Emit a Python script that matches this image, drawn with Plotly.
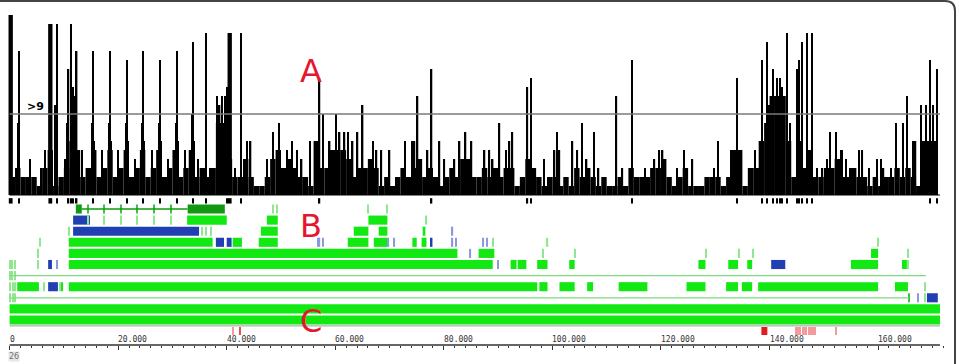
import plotly.graph_objects as go

GENOME_KB = 171.4

# ---------------- Panel A : coverage histogram (counts) ----------------
# background counts, one value per 1 kb bin (kb 0 .. 170)
bg_counts = [2, 3, 2, 2, 2, 1, 3, 5, 1, 2,
             3, 6, 5, 2, 3, 5, 2, 3, 5, 2,
             3, 5, 2, 3, 5, 2, 3, 5, 2, 3,
             5, 2, 3, 5, 2, 3, 2, 3, 8, 8,
             4, 2, 2, 4, 2, 1, 1, 2, 4, 5,
             3, 4, 3, 2, 2, 1, 6, 3, 3, 5,
             5, 5, 4, 2, 3, 3, 4, 3, 1, 2,
             1, 2, 3, 2, 3, 4, 2, 3, 2, 1,
             2, 3, 2, 4, 4, 2, 2, 3, 2, 3,
             2, 3, 3, 1, 2, 4, 3, 2, 1, 2,
             2, 1, 2, 1, 3, 2, 3, 2, 1, 2,
             1, 1, 2, 1, 3, 2, 2, 2, 3, 3,
             4, 2, 1, 2, 3, 1, 1, 1, 2, 2,
             2, 1, 2, 5, 5, 1, 3, 3, 6, 8,
             11, 11, 11, 6, 2, 6, 3, 5, 2, 2,
             3, 3, 4, 2, 2, 3, 2, 2, 1, 2,
             1, 2, 2, 3, 2, 3, 2, 1, 6, 6,
             6]

# tall narrow peaks (position kb, count)
spike_kb = [1.75, 8.4, 8.74, 10.6, 10.86, 11.26, 11.68, 12.05, 12.2, 12.36,
            15.2, 15.36, 15.55, 18.3, 18.49, 18.7, 21.45, 21.62, 21.8,
            24.4, 24.56, 24.75, 27.5, 27.69, 27.9, 30.65, 30.82, 31.0,
            33.6, 33.76, 33.95, 36.15, 38.18, 38.7, 39.1, 39.65, 40.07, 42.6,
            48.5, 49.6, 55.3, 57.1, 57.7, 60.1, 65.04, 72.8, 75.07, 75.16, 77.74,
            84.0, 90.25, 92.64, 95.4, 96.1, 100.9, 103.7, 105.5, 107.7, 111.8,
            114.7, 124.3, 130.5, 134.0, 138.6, 139.5, 139.9, 140.66, 141.4,
            141.95, 142.3, 143.2, 143.8, 145.1, 145.45, 146.0, 146.9, 147.8,
            151.15, 152.25, 153.35, 156.5, 163.3, 164.6, 165.3, 166.4, 167.9,
            168.8, 169.55, 170.1, 170.85]
spike_count = [16, 10, 19, 8, 14, 19, 12, 11, 9, 16,
               8, 16, 6, 8, 16, 6, 8, 15, 6,
               8, 16, 6, 8, 15, 6, 8, 16, 6,
               9, 17, 6, 18, 11, 10, 11, 11, 12, 18,
               7, 8, 6, 13, 9, 9, 10, 6, 10, 11, 14,
               7, 8, 7, 12, 13, 7, 6, 8, 7, 11,
               15, 5, 6, 13, 15, 17, 10, 14, 13,
               13, 12, 18, 8, 14, 15, 17, 18, 18,
               7, 7, 5, 5, 8, 8, 11, 6, 10,
               10, 15, 10, 14]

# medium peaks (position kb, count)
mid_kb = [1.6, 3.8, 5.9, 6.5, 10.2, 13.3, 17.0, 20.0, 23.1, 26.2, 29.2, 32.3,
          34.7, 37.0, 41.5, 43.7, 44.4, 47.4, 51.1, 52.0, 52.9, 53.8, 58.97,
          60.8, 61.7, 62.3, 63.2, 64.1, 66.9, 67.6, 68.5, 70.0, 74.1, 74.6,
          77.0, 79.2, 80.1, 81.96, 82.9, 85.1, 87.5, 88.4, 89.0, 91.5, 92.1,
          98.5, 100.4, 101.3, 104.6, 106.3, 108.5, 112.9, 117.1, 118.8, 119.7,
          120.3, 120.6, 123.0, 125.8, 129.8, 132.9, 133.1, 134.7, 136.2, 137.3,
          138.0, 148.7, 149.7, 150.6, 153.2, 154.1, 154.9, 157.1, 158.3, 159.8,
          160.5, 161.0, 162.4, 166.9]
mid_count = [8, 4, 3, 5, 4, 5, 5, 5, 4, 5, 4, 5,
             4, 3, 3, 6, 6, 4, 5, 6, 5, 4, 6,
             7, 7, 7, 6, 7, 6, 5, 5, 5, 6, 6,
             5, 6, 4, 4, 6, 6, 5, 5, 4, 5, 6,
             4, 5, 5, 5, 4, 3, 3, 3, 4, 5,
             5, 4, 3, 4, 3, 5, 5, 5, 3, 5,
             3, 3, 3, 4, 5, 4, 3, 5, 3, 4,
             4, 3, 3, 6]

# wide peaks (position kb, count)
wide_kb = [0.2, 7.5, 40.55]
wide_count = [20, 19, 18]

THRESHOLD = 9
MARK_MIN = 12

# ---------------- Panel B : feature rows (row, start kb, end kb) ----------------
green_blocks = [
    (2, 32.7, 40.0), (2, 47.4, 49.4), (2, 66.1, 69.6),
    (3, 46.3, 49.4), (3, 63.4, 66.1), (3, 68.0, 69.6), (3, 76.1, 76.6),
    (4, 10.9, 37.4), (4, 41.1, 42.8), (4, 45.9, 49.4), (4, 62.3, 66.1),
    (4, 67.1, 69.6), (4, 74.2, 75.0), (4, 75.9, 76.8),
    (5, 10.9, 82.5), (5, 86.4, 89.3), (5, 158.7, 160.0),
    (6, 10.9, 89.0), (6, 92.3, 93.4), (6, 93.6, 95.2), (6, 97.2, 99.1),
    (6, 103.1, 104.1), (6, 126.9, 128.2), (6, 132.4, 134.2), (6, 135.9, 136.8),
    (6, 155.0, 160.0), (6, 164.4, 165.3),
    (8, 1.4, 5.4), (8, 9.5, 9.8), (8, 10.9, 97.2), (8, 97.6, 99.1),
    (8, 101.3, 104.1), (8, 106.4, 107.5), (8, 112.2, 117.5), (8, 124.7, 128.2),
    (8, 132.0, 134.2), (8, 134.9, 136.8), (8, 137.9, 160.0), (8, 163.1, 165.5),
    (10, 0.0, 171.4), (11, 0.0, 171.4),
]
dark_blocks = [(1, 12.2, 13.3), (1, 32.8, 39.65)]
blue_blocks = [(2, 11.7, 14.8), (3, 11.7, 34.9), (4, 38.0, 39.5), (4, 40.0, 40.9),
               (4, 77.6, 77.9), (6, 7.1, 7.8), (6, 140.3, 142.9), (8, 7.1, 8.9),
               (9, 169.0, 171.0)]
light_ticks = [(1, 48.5), (1, 49.2), (1, 66.1), (1, 69.6),
               (2, 14.4), (2, 17.4), (2, 20.5), (2, 23.5), (2, 26.6), (2, 29.7), (2, 76.8),
               (3, 10.9), (3, 35.4), (3, 36.2), (3, 37.1),
               (4, 5.6), (4, 89.0), (4, 99.1), (4, 160.0),
               (5, 5.2), (5, 98.3), (5, 104.1), (5, 128.3), (5, 134.4), (5, 137.0), (5, 165.5),
               (6, 0.1), (6, 0.5), (6, 1.0), (6, 5.2), (6, 165.5),
               (7, 0.1), (7, 0.5), (7, 1.0),
               (8, 0.1), (8, 0.6), (8, 1.0), (8, 6.3), (8, 9.3), (8, 168.6),
               (9, 0.1), (9, 0.6), (9, 1.0), (9, 168.6)]
gene_ticks = [(1, 14.4), (1, 17.4), (1, 20.5), (1, 23.5), (1, 26.6), (1, 29.7), (9, 165.7)]
blue_ticks = [(3, 81.6), (4, 56.8), (4, 57.1), (4, 57.7), (4, 69.8), (4, 70.9),
              (4, 81.6), (4, 82.3), (4, 87.3), (4, 88.0), (5, 84.9), (6, 8.7),
              (6, 90.0), (9, 167.3)]
thin_lines = [(1, 13.3, 32.8), (7, 0.0, 168.8), (9, 0.0, 165.7)]

# ---------------- Panel C : red marks ----------------
red_light_kb = [41.2, 144.9, 145.3, 145.7, 146.1, 146.4, 146.8, 147.2, 147.6, 148.0, 148.3, 152.3]
red_dark_kb = [42.5]
red_blocks = [(138.5, 139.6)]
C_ROW = 11.99

tick_values = [0, 20000, 40000, 60000, 80000, 100000, 120000, 140000, 160000]
tick_labels = ["0", "20.000", "40.000", "60.000", "80.000", "100.000", "120.000", "140.000", "160.000"]

GREEN = "#12e812"
BLUE = "#1f3fb2"
DKGREEN = "#119a11"
LTGREEN = "#8fe88f"
LTBLUE = "#8b9ad8"

fig = go.Figure()

# --- panel A bars ---
fig.add_trace(go.Bar(x=[(i + 0.5) * 1000 for i in range(len(bg_counts))], y=bg_counts,
                     width=1000, marker=dict(color="black", line=dict(width=0)),
                     xaxis="x", yaxis="y"))
fig.add_trace(go.Bar(x=[k * 1000 for k in mid_kb], y=mid_count, width=260,
                     marker=dict(color="black", line=dict(width=0)), xaxis="x", yaxis="y"))
fig.add_trace(go.Bar(x=[k * 1000 for k in spike_kb], y=spike_count, width=260,
                     marker=dict(color="black", line=dict(width=0)), xaxis="x", yaxis="y"))
fig.add_trace(go.Bar(x=[k * 1000 for k in wide_kb], y=wide_count, width=800,
                     marker=dict(color="black", line=dict(width=0)), xaxis="x", yaxis="y"))

# marks under panel A for peaks >= MARK_MIN
mk = [k for k, c in zip(spike_kb, spike_count) if c >= MARK_MIN]
fig.add_trace(go.Bar(x=[k * 1000 for k in mk], y=[0.6] * len(mk), base=[-0.95] * len(mk),
                     width=260, marker=dict(color="black", line=dict(width=0)), xaxis="x", yaxis="y"))
mw = [k for k, c in zip(wide_kb, wide_count) if c >= MARK_MIN]
fig.add_trace(go.Bar(x=[k * 1000 for k in mw], y=[0.6] * len(mw), base=[-0.95] * len(mw),
                     width=700, marker=dict(color="black", line=dict(width=0)), xaxis="x", yaxis="y"))


def hblocks(blocks, color, h=0.82):
    fig.add_trace(go.Bar(orientation="h", y=[b[0] for b in blocks],
                         x=[(b[2] - b[1]) * 1000 for b in blocks],
                         base=[b[1] * 1000 for b in blocks], width=h,
                         marker=dict(color=color, line=dict(width=0)),
                         xaxis="x", yaxis="y2"))


def hticks(ticks, color, w=230, h=0.82):
    fig.add_trace(go.Bar(orientation="h", y=[t[0] for t in ticks],
                         x=[w] * len(ticks), base=[t[1] * 1000 - w / 2 for t in ticks],
                         width=h, marker=dict(color=color, line=dict(width=0)),
                         xaxis="x", yaxis="y2"))


# thin connecting lines
for r, s, e in thin_lines:
    fig.add_trace(go.Scatter(x=[s * 1000, e * 1000], y=[r, r], mode="lines",
                             line=dict(color=DKGREEN if r == 1 else "#7ddc7d", width=1.3),
                             xaxis="x", yaxis="y2", hoverinfo="skip"))

hblocks(green_blocks, GREEN)
hblocks(dark_blocks, DKGREEN)
hblocks(blue_blocks, BLUE)
hticks(light_ticks, LTGREEN)
hticks(gene_ticks, "#3cc23c")
hticks(blue_ticks, LTBLUE)

# panel C
fig.add_trace(go.Bar(orientation="h", y=[C_ROW] * len(red_light_kb), x=[200] * len(red_light_kb),
                     base=[k * 1000 - 100 for k in red_light_kb], width=0.72,
                     marker=dict(color="#f39a9a", line=dict(width=0)), xaxis="x", yaxis="y2"))
fig.add_trace(go.Bar(orientation="h", y=[C_ROW] * len(red_dark_kb), x=[230] * len(red_dark_kb),
                     base=[k * 1000 - 115 for k in red_dark_kb], width=0.72,
                     marker=dict(color="#e85050", line=dict(width=0)), xaxis="x", yaxis="y2"))
fig.add_trace(go.Bar(orientation="h", y=[C_ROW] * len(red_blocks),
                     x=[(e - s) * 1000 for s, e in red_blocks], base=[s * 1000 for s, e in red_blocks],
                     width=0.72, marker=dict(color="#e21c1c", line=dict(width=0)), xaxis="x", yaxis="y2"))

AX_Y = 1 - 345 / 364

shapes = [
    # threshold line
    dict(type="line", xref="x", yref="y", x0=0, x1=GENOME_KB * 1000, y0=THRESHOLD, y1=THRESHOLD,
         line=dict(color="#7a7a7a", width=1.5), layer="above"),
    # baseline
    dict(type="line", xref="x", yref="y", x0=0, x1=GENOME_KB * 1000, y0=0, y1=0,
         line=dict(color="black", width=1)),
    # separator between B and C
    dict(type="line", xref="x", yref="y2", x0=0, x1=GENOME_KB * 1000, y0=11.53, y1=11.53,
         line=dict(color="#9a9a9a", width=1)),
    # coordinate axis line
    dict(type="line", xref="x", yref="paper", x0=0, x1=GENOME_KB * 1000, y0=AX_Y, y1=AX_Y,
         line=dict(color="#333333", width=1.5)),
    # frame
    dict(type="path", xref="paper", yref="paper",
         path="M 0,0.99725 L 0.9854,0.99725 Q 0.99583,0.99725 0.99583,0.9698 L 0.99583,0",
         line=dict(color="#444444", width=2)),
]

annotations = [
    dict(text="<b>>9</b>", x=2800, y=THRESHOLD, xref="x", yref="y", xanchor="left", yanchor="bottom",
         showarrow=False, font=dict(family="DejaVu Sans", size=11, color="black"), yshift=-1),
    dict(text="A", x=298 / 959, y=1 - 50 / 364, xref="paper", yref="paper", showarrow=False,
         font=dict(family="DejaVu Sans", size=32, color="#e5162f")),
    dict(text="B", x=298 / 959, y=1 - 226 / 364, xref="paper", yref="paper", showarrow=False,
         font=dict(family="DejaVu Sans", size=32, color="#e5162f")),
    dict(text="C", x=298 / 959, y=1 - 342 / 364, xref="paper", yref="paper", showarrow=False,
         font=dict(family="DejaVu Sans", size=32, color="#e5162f")),
    dict(text="26", x=8 / 959, y=1 - 356 / 364, xref="paper", yref="paper", xanchor="left",
         yanchor="middle", showarrow=False, bgcolor="#e6e6e6",
         font=dict(family="DejaVu Sans", size=8, color="#777777"), borderpad=0),
]
for v, lab in zip(tick_values, tick_labels):
    annotations.append(dict(text=lab, x=v, y=AX_Y, xref="x", yref="paper", xanchor="left",
                            yanchor="bottom", showarrow=False, xshift=-2, yshift=-1,
                            font=dict(family="DejaVu Sans Mono", size=8, color="#333333")))

fig.update_layout(
    width=959, height=364, margin=dict(l=0, r=0, t=0, b=0),
    paper_bgcolor="white", plot_bgcolor="white", showlegend=False, barmode="overlay",
    shapes=shapes, annotations=annotations,
    xaxis=dict(range=[-1769, 174906], showgrid=False, zeroline=False, showline=False,
               side="top", anchor="free", position=AX_Y,
               tickmode="linear", tick0=0, dtick=20000, ticks="inside", ticklen=4,
               tickwidth=1, tickcolor="#333333", showticklabels=False,
               minor=dict(ticks="inside", ticklen=2, dtick=2000, tick0=0,
                          tickcolor="#333333", showgrid=False)),
    yaxis=dict(range=[-18.778, 21.667], visible=False, domain=[0, 1]),
    yaxis2=dict(range=[14.964, -17.829], visible=False, overlaying="y"),
)

fig.write_html("out.html")
